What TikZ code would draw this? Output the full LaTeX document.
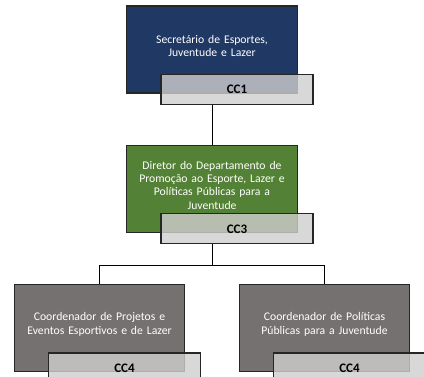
\documentclass[tikz,border=0pt]{standalone}
\usepackage{fontspec}
\setmainfont{Carlito}
\usetikzlibrary{positioning}

\definecolor{secblue}{HTML}{203864}
\definecolor{dirgreen}{HTML}{538135}
\definecolor{coordgray}{HTML}{767171}
\definecolor{ccgray}{HTML}{D0CECE}
\definecolor{boxline}{HTML}{262626}

\newcommand{\boxgap}{\par\vspace*{7pt}}

\begin{document}
\begin{tikzpicture}[
    x=1pt, y=1pt,
    node distance=51pt,
    mainbox/.style = {rectangle, draw=boxline, line width=1.2pt, text=white, align=center, text width=164pt, minimum width=168pt, minimum height=87pt, font=\fontsize{11.7}{13.3}\selectfont, execute at end node=\boxgap},
    ccbox/.style = {rectangle, draw=boxline, line width=1.2pt, fill=ccgray, fill opacity=0.8, text opacity=1, minimum width=152pt, minimum height=30pt, font=\bfseries\fontsize{13}{15}\selectfont, xshift=25pt, yshift=4pt}]

    \useasboundingbox (0,0) rectangle (424,-377);

    \node[mainbox, fill=secblue] (sec) at (212,-49.5) {Secretário de Esportes,\\Juventude e Lazer};
    \node[ccbox] (cc1) at (sec.south) {CC1};

    \node[mainbox, fill=dirgreen, below=of sec] (dir) {Diretor do Departamento de\\Promoção ao Esporte, Lazer e\\Políticas Públicas para a\\Juventude};
    \node[ccbox] (cc3) at (dir.south) {CC3};

    \node[mainbox, fill=coordgray, below=of dir, xshift=-112.5pt] (coordA) {Coordenador de Projetos e\\Eventos Esportivos e de Lazer};
    \node[ccbox] (cc4a) at (coordA.south) {CC4};

    \node[mainbox, fill=coordgray, below=of dir, xshift=112.5pt] (coordB) {Coordenador de Políticas\\Públicas para a Juventude};
    \node[ccbox] (cc4b) at (coordB.south) {CC4};

    \draw[line width=1pt] (cc1.south -| sec.south) -- (dir.north);
    \draw[line width=1pt] (cc3.south -| dir.south) -- ++(0,-21) coordinate (split);
    \draw[line width=1pt] (split) -| (coordA.north);
    \draw[line width=1pt] (split) -| (coordB.north);

\end{tikzpicture}
\end{document}
